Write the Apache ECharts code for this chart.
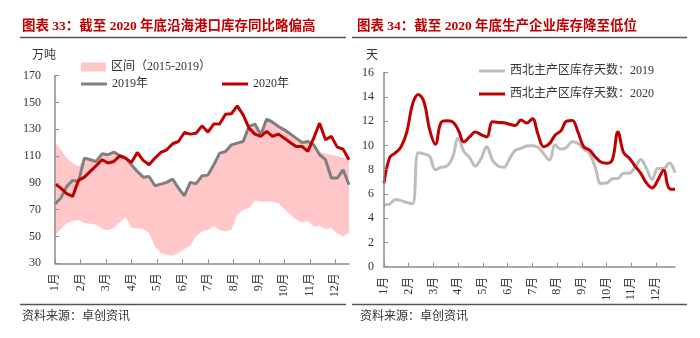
<!DOCTYPE html>
<html><head><meta charset="utf-8">
<script src="https://cdn.jsdelivr.net/npm/echarts@6/dist/echarts.min.js"></script>
<style>html,body{margin:0;padding:0;background:#fff}#c{width:700px;height:338px}</style>
</head><body><div id="c"></div>
<script>
// ---- data ----
const months = ['1月','2月','3月','4月','5月','6月','7月','8月','9月','10月','11月','12月'];
const leftYTicks = [30, 50, 70, 90, 110, 130, 150, 170];
const rightYTicks = [0, 2, 4, 6, 8, 10, 12, 14, 16];

// 沿海港口库存 (万吨), weekly
const port2019 = [74.2,78.7,87.4,91.9,91,108.5,107.3,106,111.7,111,
  113,110.5,108.5,103.5,98.6,94.3,94.8,87.9,89.1,90.4,
  92.9,86.1,80.4,90.4,89.4,95.3,95.8,103.5,112.2,113.4,
  118.4,119.7,120.9,132.1,133.9,125.9,137.6,135.3,132.1,129.6,
  126.6,123.4,120.2,120.9,118.4,111,107.3,93.6,93.6,99.8,88.6];
const port2020 = [89.4,86.1,81.9,79.9,91.9,94.3,98.6,102.8,107.3,104.8,
  106,110.2,108.5,105.3,112.7,106.8,103.5,108.5,112.7,114.7,
  119.2,120.9,127.6,126.4,127.1,132.6,127.9,133.9,133.9,141.3,
  141.6,147.5,140.8,130.9,126.4,124.7,128.4,124.7,126.4,123.4,
  120.2,117.2,117.2,113.5,123.4,134.6,122.2,124.7,116.7,115.2,107.3];
const rangeLow = [51,55.6,60,61.3,62.5,60,59.6,58.8,55.6,54.6,
  56.3,60.6,64.5,56.3,56.3,55.6,52.6,42.6,37.7,36.4,
  35.9,37.7,40.7,43.1,50.1,53.8,55.1,57.6,55.1,53.8,
  55.1,66.3,70,71.2,76.7,76.2,76.2,75.7,74.9,70.5,
  66.3,62.5,60.6,61.3,57.6,58.1,55.6,56.3,52.1,50.1,52.6];
const rangeHigh = [120.2,114.7,108.5,104.8,102.3,108,107,105.5,111,110.5,
  112.5,110,108,103,98,94,94.3,87.5,88.5,90,
  92.5,85.5,80,90,89,95,95.3,103,111.5,113,
  118,119.2,120.5,131.5,133.5,126,137,135,131.5,129,
  126,123,120,120.5,118,113,112,111,110,109,108];

// 西北主产区库存天数, weekly
const days2019 = [5.09,5.17,5.55,5.45,5.3,5.2,9.4,9.3,9.1,8.0,
  8.2,8.3,9.0,10.6,9.5,9.0,8.3,8.9,9.9,8.8,
  8.3,8.2,8.9,9.6,9.76,9.95,9.98,9.84,9.3,8.8,
  10.05,9.68,9.85,10.3,10.17,9.7,9.35,8.25,6.87,6.9,
  7.25,7.28,7.7,7.7,8.2,8.85,8.1,7.2,8.1,8.1,8.55,7.75];
const days2020 = [6.87,9.0,9.4,9.9,11.1,13.4,14.2,13.6,11.3,10.1,
  11.9,12.04,11.95,11.3,10.3,10.7,11.1,10.9,10.7,11.95,
  11.9,11.88,11.75,11.65,12.1,11.85,12.2,10.9,9.9,10.15,
  10.86,11.2,12.0,12.05,11.1,9.9,9.63,9.07,8.63,8.53,
  8.8,11.1,9.4,8.95,8.3,7.7,6.9,6.5,7.15,7.95,6.45,6.38];

// ---- chart ----
const F = "'Liberation Serif','Noto Sans CJK SC',serif";
const RED = '#c00000';
const PINK = '#ffc7c7';
const monthTicks = months.map((m, i) => i * 52 / 12);
const pts = arr => arr.map((v, i) => [i, v]);

function xAx(gi, max) {
  return {
    gridIndex: gi, type: 'value', min: 0, max: max, z: 5,
    axisLine: { show: true, lineStyle: { color: '#8c8c8c', width: 1.5 } },
    axisTick: { show: true, inside: true, length: 4, customValues: monthTicks, lineStyle: { color: '#8c8c8c' } },
    axisLabel: {
      customValues: monthTicks, rotate: 90, margin: 10,
      fontFamily: F, fontSize: 12, color: '#333',
      formatter: v => months[Math.round(v * 12 / 52)]
    },
    splitLine: { show: false }
  };
}
function yAx(gi, ticks, margin) {
  return {
    gridIndex: gi, type: 'value', min: ticks[0], max: ticks[ticks.length - 1], z: 5,
    interval: ticks[1] - ticks[0],
    axisLine: { show: true, lineStyle: { color: '#8c8c8c', width: 1.5 } },
    axisTick: { show: true, inside: true, length: 4, lineStyle: { color: '#8c8c8c' } },
    axisLabel: { margin: margin, fontFamily: F, fontSize: 12, color: '#333' },
    splitLine: { show: false }
  };
}
const legText = { fontFamily: F, fontSize: 12, color: '#333' };

const chart = echarts.init(document.getElementById('c'), null, { renderer: 'canvas' });
chart.setOption({
  animation: false,
  backgroundColor: '#fff',
  grid: [
    { left: 55, top: 75.7, width: 294, height: 187.6 },
    { left: 384, top: 72.7, width: 291, height: 194 }
  ],
  xAxis: [xAx(0, 50), xAx(1, 51)],
  yAxis: [yAx(0, leftYTicks, 14), yAx(1, rightYTicks, 10)],
  legend: [
    { left: 76, top: 56, itemWidth: 25, itemHeight: 9, itemGap: 4, textStyle: legText,
      data: [{ name: '区间（2015-2019）', icon: 'rect', itemStyle: { color: PINK } }] },
    { left: 76, top: 73, itemWidth: 26, itemHeight: 3, textStyle: legText,
      data: [{ name: '2019年', icon: 'rect', itemStyle: { color: '#7f7f7f' } }] },
    { left: 217, top: 73, itemWidth: 26, itemHeight: 3, textStyle: legText,
      data: [{ name: '2020年', icon: 'rect', itemStyle: { color: RED } }] },
    { left: 474, top: 60, itemWidth: 26, itemHeight: 3, textStyle: legText,
      data: [{ name: '西北主产区库存天数：2019', icon: 'rect', itemStyle: { color: '#bdbdbd' } }] },
    { left: 474, top: 83, itemWidth: 26, itemHeight: 3, textStyle: legText,
      data: [{ name: '西北主产区库存天数：2020', icon: 'rect', itemStyle: { color: RED } }] }
  ],
  series: [
    { name: '区间（2015-2019）', type: 'line', xAxisIndex: 0, yAxisIndex: 0, data: pts(rangeHigh),
      symbol: 'none', lineStyle: { width: 0, opacity: 0 }, itemStyle: { color: PINK },
      areaStyle: { color: PINK, opacity: 1, origin: 'start' }, silent: true },
    { name: 'rangeLowMask', type: 'line', xAxisIndex: 0, yAxisIndex: 0, data: pts(rangeLow),
      symbol: 'none', lineStyle: { width: 0, opacity: 0 }, itemStyle: { color: '#fff' },
      areaStyle: { color: '#fff', opacity: 1, origin: 'start' }, silent: true },
    { name: '2019年', type: 'line', xAxisIndex: 0, yAxisIndex: 0, data: pts(port2019),
      symbol: 'none', lineStyle: { color: '#7f7f7f', width: 3 }, itemStyle: { color: '#7f7f7f' } },
    { name: '2020年', type: 'line', xAxisIndex: 0, yAxisIndex: 0, data: pts(port2020),
      symbol: 'none', lineStyle: { color: RED, width: 3 }, itemStyle: { color: RED } },
    { name: '西北主产区库存天数：2019', type: 'line', xAxisIndex: 1, yAxisIndex: 1, data: pts(days2019),
      symbol: 'none', smooth: 0.4, lineStyle: { color: '#bdbdbd', width: 3 }, itemStyle: { color: '#bdbdbd' } },
    { name: '西北主产区库存天数：2020', type: 'line', xAxisIndex: 1, yAxisIndex: 1, data: pts(days2020),
      symbol: 'none', smooth: 0.4, lineStyle: { color: RED, width: 3 }, itemStyle: { color: RED } }
  ],
  graphic: [
    { type: 'text', left: 22, top: 20, style: { text: '图表 33：截至 2020 年底沿海港口库存同比略偏高',
      fontFamily: F, fontSize: 13.5, fontWeight: 'bold', fill: RED } },
    { type: 'text', left: 357, top: 20, style: { text: '图表 34：截至 2020 年底生产企业库存降至低位',
      fontFamily: F, fontSize: 13.5, fontWeight: 'bold', fill: RED } },
    { type: 'line', shape: { x1: 20, y1: 37.5, x2: 346, y2: 37.5 }, style: { stroke: '#555', lineWidth: 1.5 } },
    { type: 'line', shape: { x1: 352, y1: 37.5, x2: 687, y2: 37.5 }, style: { stroke: '#555', lineWidth: 1.5 } },
    { type: 'line', shape: { x1: 20, y1: 304.5, x2: 346, y2: 304.5 }, style: { stroke: '#555', lineWidth: 1.5 } },
    { type: 'line', shape: { x1: 352, y1: 304.5, x2: 687, y2: 304.5 }, style: { stroke: '#555', lineWidth: 1.5 } },
    { type: 'text', left: 32, top: 50, style: { text: '万吨', fontFamily: F, fontSize: 12, fill: '#333' } },
    { type: 'text', left: 366, top: 50, style: { text: '天', fontFamily: F, fontSize: 12, fill: '#333' } },
    { type: 'text', left: 22, top: 311, style: { text: '资料来源：卓创资讯', fontFamily: F, fontSize: 12, fill: '#333' } },
    { type: 'text', left: 360, top: 311, style: { text: '资料来源：卓创资讯', fontFamily: F, fontSize: 12, fill: '#333' } }
  ]
});
</script></body></html>
